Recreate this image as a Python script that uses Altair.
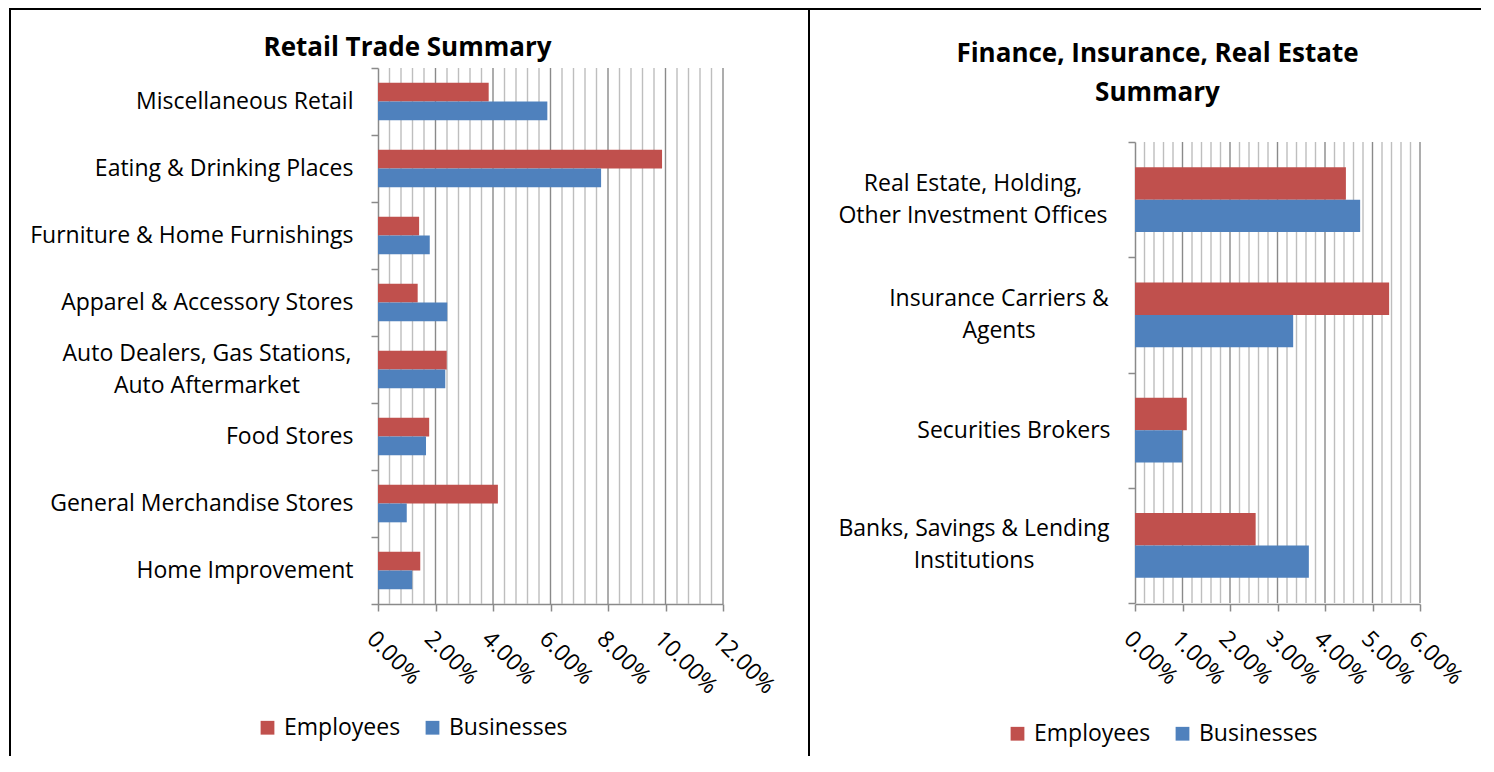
import altair as alt
import pandas as pd

RED = "#C0504D"
BLUE = "#4F81BD"
GRID_MAJOR = "#8A8A8A"
GRID_MINOR = "#BEBEBE"
FONT = "Open Sans"
LABEL_SIZE = 23
TITLE_SIZE = 26
SERIES = ["Employees", "Businesses"]

# ---- Retail Trade Summary ----
retail_categories = [
    "Miscellaneous Retail",
    "Eating & Drinking Places",
    "Furniture & Home Furnishings",
    "Apparel & Accessory Stores",
    "Auto Dealers, Gas Stations,\nAuto Aftermarket",
    "Food Stores",
    "General Merchandise Stores",
    "Home Improvement",
]
retail_employees = [0.0385, 0.0988, 0.0143, 0.0138, 0.0239, 0.0178, 0.0417, 0.0147]
retail_businesses = [0.0589, 0.0776, 0.0180, 0.0241, 0.0234, 0.0167, 0.0100, 0.0119]
retail_major_ticks = [0.0, 0.02, 0.04, 0.06, 0.08, 0.10, 0.12]
retail_minor_ticks = [round(i * 0.004, 4) for i in range(31) if i % 5]

# ---- Finance, Insurance, Real Estate Summary ----
fire_categories = [
    "Real Estate, Holding,\nOther Investment Offices",
    "Insurance Carriers &\nAgents",
    "Securities Brokers",
    "Banks, Savings & Lending\nInstitutions",
]
fire_employees = [0.0444, 0.0535, 0.0109, 0.0254]
fire_businesses = [0.0474, 0.0333, 0.0099, 0.0366]
fire_major_ticks = [0.0, 0.01, 0.02, 0.03, 0.04, 0.05, 0.06]
fire_minor_ticks = [round(i * 0.002, 4) for i in range(31) if i % 5]

PANEL_H = 536
WRAP_LINE_H = 32


def panel(cats, emp, bus, majors, minors, width, y_top, y_bot, title, title_dx,
          title_offset, legend_x, legend_y, wrapped_centers, borders):
    df = pd.DataFrame({
        "category": cats * 2,
        "series": ["Employees"] * len(cats) + ["Businesses"] * len(cats),
        "share": emp + bus,
    })
    xscale = alt.Scale(domain=[majors[0], majors[-1]], nice=False, zero=True)
    yscale = alt.Scale(range=[y_top, y_bot], paddingInner=0, paddingOuter=0)

    xaxis = alt.Axis(
        title=None, values=majors, format=".2%", grid=False,
        labelAngle=45, labelAlign="left", labelBaseline="top",
        labelPadding=16, labelFont=FONT, labelFontSize=LABEL_SIZE,
        labelColor="black", labelOverlap=False, labelFlush=False,
        domainColor=GRID_MAJOR, domainWidth=1.5,
        tickColor=GRID_MAJOR, tickWidth=1.5, tickSize=7,
    )
    yaxis = alt.Axis(
        title=None, grid=False, tickBand="extent",
        domainColor=GRID_MAJOR, domainWidth=1.5,
        tickColor=GRID_MAJOR, tickWidth=1.5, tickSize=7,
        labelFont=FONT, labelFontSize=LABEL_SIZE, labelColor="black",
        labelLimit=1000, labelPadding=18,
        labelExpr="indexof(datum.label, '\\n') >= 0 ? '' : datum.label",
    )

    minor = alt.Chart(pd.DataFrame({"tick": minors})).mark_rule(
        color=GRID_MINOR, strokeWidth=1.4
    ).encode(
        x=alt.X("tick:Q", scale=xscale, axis=xaxis),
        y=alt.value(y_top), y2=alt.value(y_bot),
    )
    major = alt.Chart(pd.DataFrame({"tick": majors[1:]})).mark_rule(
        color=GRID_MAJOR, strokeWidth=1.4
    ).encode(
        x=alt.X("tick:Q", scale=xscale, axis=xaxis),
        y=alt.value(y_top), y2=alt.value(y_bot),
    )

    bars = alt.Chart(df).mark_bar().encode(
        x=alt.X("share:Q", scale=xscale, axis=xaxis),
        y=alt.Y("category:N", sort=cats, scale=yscale, axis=yaxis),
        yOffset=alt.YOffset(
            "series:N", sort=SERIES,
            scale=alt.Scale(paddingInner=0, paddingOuter=0.78),
        ),
        color=alt.Color(
            "series:N", sort=SERIES,
            scale=alt.Scale(domain=SERIES, range=[RED, BLUE]),
            legend=alt.Legend(
                title=None, orient="none", legendX=legend_x, legendY=legend_y,
                direction="horizontal", symbolType="square", symbolSize=190,
                symbolStrokeWidth=0, symbolOpacity=1, labelFont=FONT,
                labelFontSize=LABEL_SIZE, labelColor="black", labelOffset=5,
                columnPadding=20, padding=0,
            ),
        ),
    )

    layers = [minor, major, bars]

    # wrapped category labels, each block centred like the original
    for cat, cx in wrapped_centers:
        layers.append(
            alt.Chart(pd.DataFrame({"category": [cat]})).mark_text(
                align="center", baseline="middle", lineBreak="\n",
                lineHeight=WRAP_LINE_H, dy=-WRAP_LINE_H / 2, font=FONT,
                fontSize=LABEL_SIZE, color="black",
            ).encode(
                y=alt.Y("category:N", sort=cats, scale=yscale, axis=yaxis),
                x=alt.value(cx),
                text="category:N",
            )
        )

    for b in borders:
        layers.append(
            alt.Chart(pd.DataFrame({"k": [0]})).mark_rule(
                color="black", strokeWidth=2
            ).encode(**b)
        )

    return alt.layer(*layers).properties(
        width=width, height=PANEL_H,
        title=alt.TitleParams(
            text=title, font=FONT, fontSize=TITLE_SIZE, fontWeight="bold",
            color="black", anchor="middle", frame="group", baseline="top",
            offset=title_offset, dx=title_dx, lineHeight=39,
        ),
    )


left_borders = [
    dict(x=alt.value(-368), y=alt.value(-59), y2=alt.value(688)),
    dict(x=alt.value(431), y=alt.value(-59), y2=alt.value(688)),
    dict(x=alt.value(-369), x2=alt.value(1103), y=alt.value(-59)),
]

left = panel(
    retail_categories, retail_employees, retail_businesses,
    retail_major_ticks, retail_minor_ticks, 345, 0, PANEL_H,
    "Retail Trade Summary", -143, -53, -122, 648,
    [(retail_categories[4], -171)], left_borders,
)

right = panel(
    fire_categories, fire_employees, fire_businesses,
    fire_major_ticks, fire_minor_ticks, 285, 74, 535,
    ["Finance, Insurance, Real Estate", "Summary"], -120, -49, -129, 654,
    [(fire_categories[0], -162), (fire_categories[1], -136),
     (fire_categories[3], -161)], [],
)

chart = alt.hconcat(left, right, spacing=412, bounds="flush").resolve_scale(
    color="independent", x="independent", y="independent", yOffset="independent"
).resolve_legend(color="independent").configure_view(strokeWidth=0).properties(
    padding=0
)

chart.save("out.html", embed_options={"renderer": "svg", "actions": False})
